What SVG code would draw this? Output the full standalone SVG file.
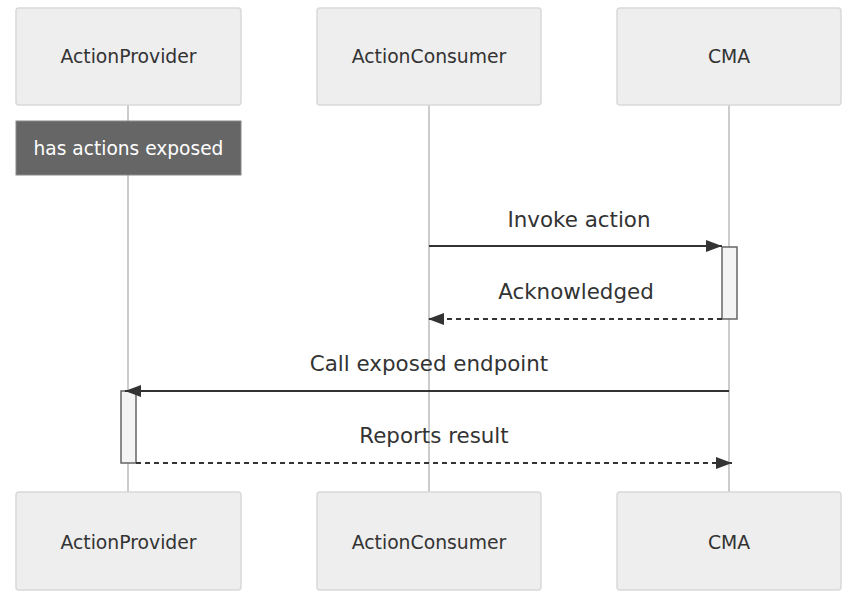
<svg xmlns="http://www.w3.org/2000/svg" width="845" height="593" viewBox="0 0 845 593">
<style>
.actor{fill:#eeeeee;stroke:#d9d9d9;stroke-width:1.5}
.atext{font-family:"DejaVu Sans",sans-serif;font-size:18.8px;fill:#333;text-anchor:middle;dominant-baseline:central}
.life{stroke:#cccccc;stroke-width:2;fill:none}
.act{fill:#f4f4f4;stroke:#666;stroke-width:1.5}
.msg{stroke:#333;stroke-width:2.2;fill:none}
.dash{stroke-dasharray:5,4}
.mtext{font-family:"DejaVu Sans",sans-serif;font-size:21.4px;fill:#333;text-anchor:middle;dominant-baseline:central}
.ntext{font-family:"DejaVu Sans",sans-serif;font-size:18.6px;fill:#ffffff;text-anchor:middle;dominant-baseline:central}
</style>
<defs>
<marker id="arrow" viewBox="0 0 16 12" refX="16" refY="6" markerWidth="16" markerHeight="12" markerUnits="userSpaceOnUse" orient="auto">
<path d="M0,0 L16,6 L0,12 z" fill="#333"/>
</marker>
</defs>
<rect width="845" height="593" fill="#ffffff"/>
<g id="lifelines">
<line class="life" x1="128" y1="105" x2="128" y2="492"/>
<line class="life" x1="429" y1="105" x2="429" y2="492"/>
<line class="life" x1="729" y1="105" x2="729" y2="492"/>
</g>
<g id="ActionProvider-top"><rect class="actor" x="16" y="8" width="225" height="97" rx="3"/><text class="atext" x="128.5" y="56.5">ActionProvider</text></g>
<g id="ActionConsumer-top"><rect class="actor" x="317" y="8" width="224" height="97" rx="3"/><text class="atext" x="429" y="56.5">ActionConsumer</text></g>
<g id="CMA-top"><rect class="actor" x="617" y="8" width="224" height="97" rx="3"/><text class="atext" x="729" y="56.5">CMA</text></g>
<g id="ActionProvider-bottom"><rect class="actor" x="16" y="492" width="225" height="98" rx="3"/><text class="atext" x="128.5" y="542">ActionProvider</text></g>
<g id="ActionConsumer-bottom"><rect class="actor" x="317" y="492" width="224" height="98" rx="3"/><text class="atext" x="429" y="542">ActionConsumer</text></g>
<g id="CMA-bottom"><rect class="actor" x="617" y="492" width="224" height="98" rx="3"/><text class="atext" x="729" y="542">CMA</text></g>
<g id="note"><rect x="16" y="121" width="225" height="54" fill="#666666" stroke="#888" stroke-width="1"/><text class="ntext" x="128.5" y="148">has actions exposed</text></g>
<g id="activations">
<rect class="act" x="722" y="247" width="15" height="72"/>
<rect class="act" x="121" y="391" width="15" height="72"/>
</g>
<g id="connectors">
<line class="msg" x1="429" y1="246" x2="722" y2="246" marker-end="url(#arrow)"/>
<line class="msg dash" x1="722" y1="319" x2="428" y2="319" marker-end="url(#arrow)"/>
<line class="msg" x1="729" y1="391" x2="125" y2="391" marker-end="url(#arrow)"/>
<line class="msg dash" x1="136" y1="463" x2="732" y2="463" marker-end="url(#arrow)"/>
</g>
<g id="labels">
<text class="mtext" x="579" y="219">Invoke action</text>
<text class="mtext" x="576" y="291">Acknowledged</text>
<text class="mtext" x="429" y="363">Call exposed endpoint</text>
<text class="mtext" x="434" y="435">Reports result</text>
</g>
</svg>
